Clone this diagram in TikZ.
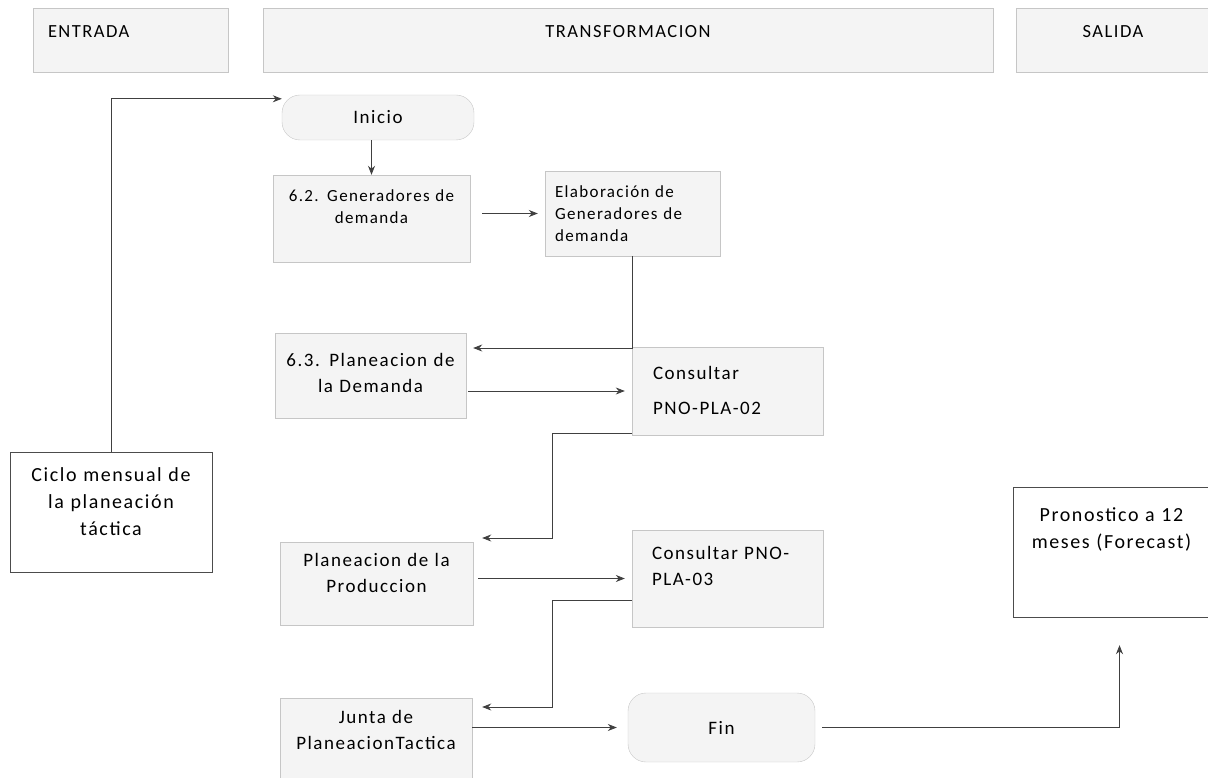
\documentclass[tikz,border=0pt]{standalone}
\usepackage{fontspec}
\setmainfont{Carlito}[LetterSpace=8]
\usetikzlibrary{arrows.meta}

\newcommand\fuentecab{\fontsize{18.5}{22}\selectfont}
\newcommand\fuentecaja{\fontsize{19}{26}\selectfont}
\newcommand\fuentechica{\fontsize{17}{22}\selectfont}
\newcommand\fuentemarco{\fontsize{20}{27}\selectfont}

\begin{document}
\begin{tikzpicture}[x=1pt,y=-1pt,
		caja/.style={rectangle,fill=gray!9,draw=gray!45,inner sep=0pt,align=center},
		redondo/.style={caja,rounded corners=18pt},
		marco/.style={rectangle,draw=black!70,inner sep=0pt,align=center,font=\fuentemarco},
		linea/.style={text height=0pt,text depth=#1},
		flecha/.style={draw=black!75,line width=0.8pt,-{Stealth[length=9pt,width=7pt]}}]
	\useasboundingbox (0,0) rectangle (1208,778);
	% encabezados
	\node[caja,minimum width=195pt,minimum height=64pt,text width=165pt,align=left,font=\fuentecab,linea=4pt] (entrada) at (130.5,40) {ENTRADA};
	\node[caja,minimum width=730pt,minimum height=64pt,text width=700pt,font=\fuentecab,linea=4pt] (transf) at (628,40) {TRANSFORMACION\hspace{14pt}};
	\node[caja,minimum width=194pt,minimum height=64pt,text width=170pt,font=\fuentecab,linea=4pt] (salida) at (1113,40) {SALIDA};
	% proceso
	\node[redondo,minimum width=192pt,minimum height=45pt,font=\fuentecaja] (inicio) at (378,117.5) {Inicio};
	\node[caja,minimum width=197pt,minimum height=87pt,text width=190pt,font=\fuentechica,linea=33pt] (gen) at (371.5,218.5) {6.2. Generadores de\\demanda};
	\node[caja,minimum width=175pt,minimum height=85pt,text width=155pt,align=left,font=\fuentechica,linea=31pt] (elab) at (632.5,213.5) {Elaboración de\\Generadores de\\demanda};
	\node[caja,minimum width=191pt,minimum height=85pt,text width=185pt,font=\fuentecaja,linea=19pt] (plandem) at (370.5,375.5) {6.3. Planeacion de\\la Demanda};
	\node[caja,minimum width=191pt,minimum height=88pt,text width=149pt,align=left,font=\fuentecaja,linea=24pt] (cons02) at (727.5,391) {Consultar\\[9pt]PNO-PLA-02};
	\node[caja,minimum width=193pt,minimum height=83pt,text width=187pt,font=\fuentecaja,linea=35pt] (planprod) at (376.5,583.5) {Planeacion de la\\Produccion};
	\node[caja,minimum width=191pt,minimum height=97pt,text width=151pt,align=left,font=\fuentecaja,linea=39pt] (cons03) at (727.5,578.5) {Consultar PNO-\\PLA-03};
	\node[caja,minimum width=192pt,minimum height=80pt,text width=186pt,font=\fuentecaja,linea=30pt] (junta) at (376,738) {Junta de\\PlaneacionTactica};
	\node[redondo,minimum width=187pt,minimum height=69pt,font=\fuentecaja] (fin) at (721.5,727.5) {Fin};
	% entrada y salida
	\node[marco,minimum width=202pt,minimum height=120pt,text width=192pt,linea=61pt] (ciclo) at (111,512) {Ciclo mensual de\\la planeación\\táctica};
	\node[marco,minimum width=197pt,minimum height=130pt,text width=187pt,linea=61pt] (pron) at (1111.5,552) {Pronostico a 12\\meses (Forecast)};
	% flechas
	\draw[flecha] (ciclo.north) |- ([yshift=-4pt]inicio.north west);
	\draw[flecha] (gen.north |- inicio.south) -- (gen.north);
	\draw[flecha,shorten <=12pt,shorten >=7pt] (gen.east |- elab.west) -- (elab.west);
	\draw[flecha,shorten >=7pt] (elab.south) |- ([yshift=27.5pt]plandem.east);
	\draw[flecha,shorten <=2pt,shorten >=7pt] (plandem.east |- cons02.west) -- (cons02.west);
	\draw[flecha,shorten >=9pt] ([yshift=2pt]cons02.south west) -- ++(-79,0) |- ([yshift=45.5pt]planprod.east);
	\draw[flecha,shorten <=5pt,shorten >=7pt] (planprod.east |- cons03.west) -- (cons03.west);
	\draw[flecha,shorten >=10pt] ([yshift=-21.5pt]cons03.west) -- ++(-79,0) |- ([yshift=31pt]junta.east);
	\draw[flecha,shorten >=11pt] (junta.east |- fin.west) -- (fin.west);
	\draw[flecha,shorten <=7pt,shorten >=28pt] (fin.east) -| ([xshift=8pt]pron.south);
\end{tikzpicture}
\end{document}
